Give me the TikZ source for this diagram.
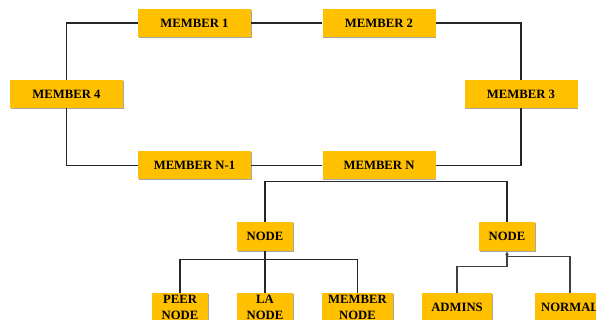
\documentclass[tikz,border=0pt]{standalone}
\usepackage{fontspec}
\setmainfont{Liberation Serif}
\usetikzlibrary{calc,arrows.meta,shadows}
\begin{document}
\begin{tikzpicture}[x=1pt,y=-1pt,
  box/.style={fill=gold, draw=none, inner sep=0pt, align=center,
    font=\bfseries\fontsize{12.7}{16}\selectfont,
    drop shadow={shadow xshift=0.8pt, shadow yshift=-0.8pt, fill=black!35, opacity=1}},
  member/.style={box, minimum width=113, minimum height=28},
  small/.style={box, minimum width=56, minimum height=29},
  leaf/.style={box, minimum height=28},
  link/.style={line width=1.3pt, draw=black!85}]
\definecolor{gold}{HTML}{FFC000}
\useasboundingbox (0,0) rectangle (596,320);

% ring of members
\node[member] (m1) at (194.5,23) {MEMBER 1};
\node[member] (m2) at (379,23) {MEMBER 2};
\node[member] (m4) at (66.5,94) {MEMBER 4};
\node[member] (m3) at (521,94) {MEMBER 3};
\node[member] (mn1) at (194.5,165.5) {MEMBER N-1};
\node[member] (mn) at (379,165.5) {MEMBER N};

\draw[link] (m1) -- (m2);
\draw[link] (m1.west) -| (m4.north);
\draw[link] (m2.east) -| (m3.north);
\draw[link] (m3.south) |- (mn.east);
\draw[link] (mn) -- (mn1);
\draw[link] (mn1.west) -| (m4.south);

% second level
\node[small] (nl) at (265,236.5) {NODE};
\node[small] (nr) at (507,236.5) {NODE};
\coordinate (bus) at ($(mn.south)+(0,2)$);
\draw[link] (nl.north) |- (bus) -| (nr.north);

% leaves
\node[leaf, minimum width=56] (peer) at (180,307) {PEER\\NODE};
\node[leaf, minimum width=56] (la) at (265,307) {LA\\NODE};
\node[leaf, minimum width=71] (mem) at (357.5,307) {MEMBER\\NODE};
\node[leaf, minimum width=70] (adm) at (457,307) {ADMINS};
\node[leaf, minimum width=70] (norm) at (570,307) {NORMAL};

\draw[link] (peer.north) |- ($(nl.south)+(0,8)$) -| (mem.north);
\draw[link] (nl.south) -- (la.north);
\draw[link, line width=1.1pt, draw=black!75] (adm.north) |- ($(nr.south)+(0,15)$)
  -- ($(nr.south)+(0,4)$);
\draw[link, line width=1.1pt, draw=black!75] (norm.north) |- ($(nr.south)+(0,5)$);
\draw[-{Latex[length=4pt,width=4pt]}, line width=1.1pt, draw=black!75]
  ($(nr.south)+(0,6)$) -- (nr.south);
\end{tikzpicture}
\end{document}
